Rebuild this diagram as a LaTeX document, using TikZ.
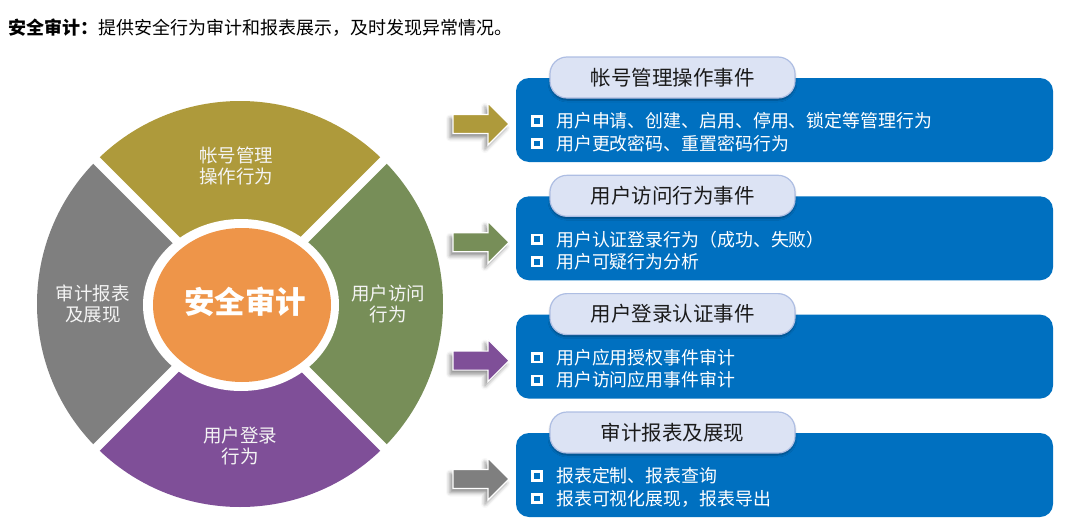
\documentclass[tikz,border=0pt]{standalone}
\usepackage{fontspec}
\setmainfont{Noto Sans CJK SC}
\usetikzlibrary{shadows.blur}
\definecolor{segolive}{HTML}{AE9A3B}
\definecolor{seggreen}{HTML}{778E58}
\definecolor{segpurple}{HTML}{7F4F98}
\definecolor{seggray}{HTML}{7F7F7F}
\definecolor{hubor}{HTML}{EE9549}
\definecolor{boxblue}{HTML}{0070C0}
\definecolor{tabfill}{HTML}{DCE3F4}
\definecolor{tabline}{HTML}{AEBEE3}
\definecolor{segtext}{HTML}{F4F4F4}
\definecolor{darktext}{HTML}{1A1A1A}
\begin{document}
\begin{tikzpicture}[x=1pt,y=-1pt,
  segtxt/.style={text=segtext, align=center, inner sep=0, font=\fontsize{18.5}{21.5}\selectfont},
  bluebox/.style={fill=boxblue, rounded corners=13pt, minimum width=537pt, minimum height=84pt, inner sep=0},
  tabbox/.style={fill=tabfill, draw=tabline, line width=1.2pt, rounded corners=17pt, minimum width=245pt, minimum height=41pt, inner sep=0,
     blur shadow={shadow xshift=0pt, shadow yshift=-2pt, shadow blur radius=2pt, shadow opacity=35},
     font=\fontsize{20.5}{22}\selectfont, text=darktext},
  bulletsq/.style={draw=white, line width=2.6pt, minimum size=8.5pt, inner sep=0},
  bullettxt/.style={anchor=west, text=white, inner sep=0, font=\fontsize{17.9}{20}\selectfont},
  blockarrow/.style={fill=#1, draw=white, line width=1.2pt, line join=miter,
     blur shadow={shadow xshift=-3pt, shadow yshift=-4pt, shadow blur radius=4pt, shadow opacity=45}}
]
\useasboundingbox (0,0) rectangle (1080,525);

% title
\node[anchor=west, inner sep=0, font=\fontsize{18}{20}\selectfont, text=black] (title) at (8,28)
  {\textbf{安全审计：}提供安全行为审计和报表展示，及时发现异常情况。};

% wheel
\coordinate (C) at (240,304);
\fill[segolive]  (C) -- ++(225:203) arc[start angle=225, end angle=315, radius=203] -- cycle;
\fill[seggreen]  (C) -- ++(-45:203) arc[start angle=-45, end angle=45, radius=203] -- cycle;
\fill[segpurple] (C) -- ++(45:203) arc[start angle=45, end angle=135, radius=203] -- cycle;
\fill[seggray]   (C) -- ++(135:203) arc[start angle=135, end angle=225, radius=203] -- cycle;
\draw[white, line width=9pt] (90,154) -- (390,454);
\draw[white, line width=9pt] (390,154) -- (90,454);
\fill[white] (241,305) ellipse [x radius=98, y radius=86];
\fill[hubor] (242,305) ellipse [x radius=89, y radius=77];
\node[text=white, inner sep=0, font=\fontsize{30.5}{32}\selectfont\bfseries] (hub) at (245,302) {安全审计};

\node[segtxt] (s1) at (236,166) {帐号管理\\操作行为};
\node[segtxt] (s2) at (388,304) {用户访问\\行为};
\node[segtxt] (s3) at (240,446) {用户登录\\行为};
\node[segtxt] (s4) at (93,304) {审计报表\\及展现};

% right side panels
\foreach \i/\t/\c/\ttl/\la/\lb in {
 1/78/segolive/帐号管理操作事件/用户申请、创建、启用、停用、锁定等管理行为/用户更改密码、重置密码行为,
 2/196.3/seggreen/用户访问行为事件/用户认证登录行为（成功、失败）/用户可疑行为分析,
 3/314.6/segpurple/用户登录认证事件/用户应用授权事件审计/用户访问应用事件审计,
 4/433/seggray/审计报表及展现/报表定制、报表查询/报表可视化展现，报表导出}
{
  \node[bluebox] (box\i) at (784.5,\t+42) {};
  \node[tabbox] (tab\i) at (672.5,\t-0.5) {\ttl};
  \coordinate (arr\i) at (453,\t+46);
  \filldraw[blockarrow=\c] (arr\i) ++(0,-9.5) -- ++(35,0) -- ++(0,-11.5) -- ++(21,21) -- ++(-21,21) -- ++(0,-11.5) -- ++(-35,0) -- cycle;
  \node[bulletsq] (ba\i) at (537,\t+43) {};
  \node[bullettxt] (la\i) at (556,\t+43) {\la};
  \node[bulletsq] (bb\i) at (537,\t+65.5) {};
  \node[bullettxt] (lb\i) at (556,\t+65.5) {\lb};
}
\end{tikzpicture}
\end{document}
